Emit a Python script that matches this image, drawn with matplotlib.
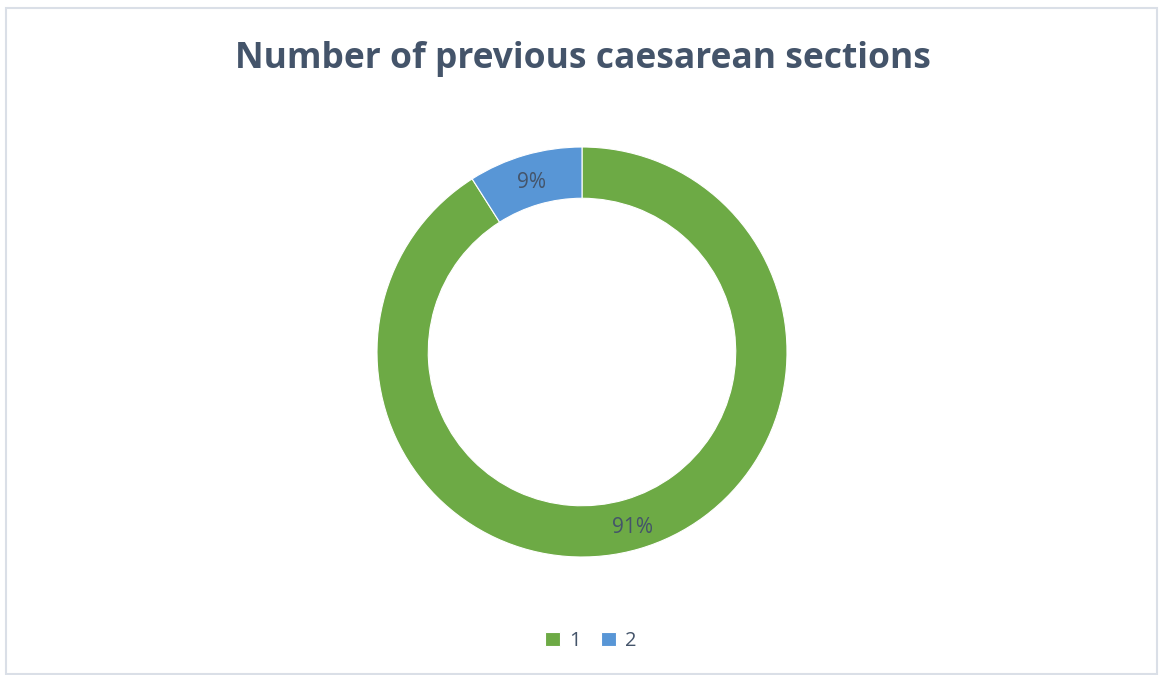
import matplotlib
matplotlib.use("Agg")
import matplotlib.pyplot as plt
from matplotlib.patches import Rectangle
import numpy as np

categories = ['1', '2']
values = [91, 9]
labels = ['91%', '9%']
colors = ['#6DAA45', '#5896D6']

W, H = 1160, 675
fig = plt.figure(figsize=(W / 100, H / 100), dpi=100)
fig.patch.set_facecolor('white')

# outer frame
fig.add_artist(Rectangle((6 / W, 1 / H), 1151 / W, 666 / H, transform=fig.transFigure,
                         fill=False, edgecolor='#DADFE7', linewidth=1.5))

fig.text(583 / W, 1 - 59 / H, 'Number of previous caesarean sections',
         ha='center', va='center', fontsize=25.5, fontweight='bold',
         color='#44546A', family='Open Sans')

cx, cy, r = 582, 352, 205
ax = fig.add_axes([(cx - r) / W, (H - cy - r) / H, 2 * r / W, 2 * r / H])
wedges, _ = ax.pie(values, colors=colors, startangle=90, counterclock=False,
                   radius=1.0, wedgeprops=dict(width=0.25, edgecolor='white', linewidth=0.8))
ax.set_xlim(-1, 1)
ax.set_ylim(-1, 1)
ax.set_aspect('equal')
ax.axis('off')

# labels at the middle of the ring
for w, lab in zip(wedges, labels):
    mid = np.deg2rad((w.theta1 + w.theta2) / 2)
    ax.text(0.875 * np.cos(mid), 0.875 * np.sin(mid) - 0.015, lab, ha='center', va='center',
            fontsize=15, color='#44546A', family='Open Sans')

fig.legend(wedges, categories, loc='center', bbox_to_anchor=(591 / W, 1 - 641 / H),
           ncol=2, frameon=False, handlelength=0.75, handleheight=0.75,
           handletextpad=0.45, columnspacing=1.0,
           prop={'family': 'Open Sans', 'size': 14.5}, labelcolor='#44546A')

fig.savefig('out.png', dpi=100, facecolor='white')
